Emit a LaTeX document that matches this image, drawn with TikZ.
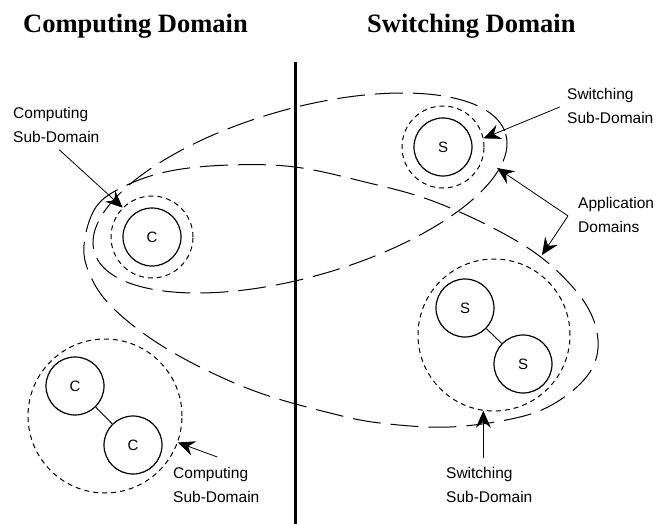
\documentclass[tikz,border=0pt]{standalone}
\usepackage{fontspec}
\setmainfont{Liberation Serif}
\setsansfont{Liberation Sans}
\usetikzlibrary{arrows.meta}
\tikzset{
  unit/.style={circle,draw,line width=1.2pt,minimum size=58pt,inner sep=0pt,font=\sffamily\fontsize{15}{18}\selectfont},
  subdom/.style={circle,draw,line width=1pt,dash pattern=on 5pt off 4pt,inner sep=0pt},
  appdom/.style={line width=1pt,dash pattern=on 28pt off 10pt},
  tag/.style={font=\sffamily\fontsize{15.5}{24}\selectfont,align=left,inner sep=0pt,anchor=north west},
  pointer/.style={line width=0.8pt,-{Stealth[length=17pt,width=15pt,inset=6pt]}},
  heading/.style={font=\bfseries\fontsize{26.5}{30}\selectfont,inner sep=0pt,anchor=base west}
}
\begin{document}
\begin{tikzpicture}[x=1pt,y=-1pt]
\useasboundingbox (0,0) rectangle (659,524);
\def\sub{82pt}

% the two domains
\node[heading] (cdomain) at (23,33) {Computing Domain};
\node[heading] (sdomain) at (367,33) {Switching Domain};
\draw[line width=3pt] (295,62) -- (295,524);

% application domains
\draw[appdom, rotate around={16:(300,193)}] (300,193) ellipse [x radius=214, y radius=84];
\draw[appdom] plot[smooth cycle, tension=0.6] coordinates {
  (84,245) (96,207) (125,186) (170,171) (230,165) (295,167) (365,182)
  (430,200) (497,230) (547,262) (585,303) (598,340) (590,372) (560,400)
  (520,417) (450,427) (380,423) (330,413) (260,393) (200,367) (150,338)
  (110,305) (90,275)};

% sub-domains
\node[subdom,minimum size=\sub] (cdom) at (152,237) {};
\node[unit] (c) at (152,237) {C};
\node[subdom,minimum size=\sub] (sdom) at (443,147) {};
\node[unit] (s) at (443,147) {S};
\node[subdom,minimum size=154pt] (cgrp) at (105,416) {};
\node[unit] (c1) at (75,386) {C};
\node[unit] (c2) at (133,445) {C};
\draw[line width=0.9pt] (c1) -- (c2);
\node[subdom,minimum size=152pt] (sgrp) at (494,335) {};
\node[unit] (s1) at (465,308) {S};
\node[unit] (s2) at (523,364) {S};
\draw[line width=0.9pt] (s1) -- (s2);

% labels
\node[tag] (ctag) at (13,107) {Computing\\Sub-Domain};
\node[tag] (stag) at (567,88) {Switching\\Sub-Domain};
\node[tag] (atag) at (578,197) {Application\\Domains};
\node[tag] (cgtag) at (173,467) {Computing\\Sub-Domain};
\node[tag] (sgtag) at (446,467) {Switching\\Sub-Domain};

\draw[pointer] ([shift={(3,7)}]ctag.south) -- (cdom.135);
\draw[pointer] ([shift={(-7,1)}]stag.west) -- (sdom.12);
\coordinate (afork) at ([shift={(-10,1)}]atag.west);
\coordinate (ptip) at (497,168);
\coordinate (qtip) at (542,255);
\draw[pointer] (afork) -- (ptip);
\draw[pointer] (afork) -- (qtip);
\draw[pointer] ([shift={(1,-10)}]cgtag.north) -- (cgrp.-20);
\draw[pointer] (sgrp.-98 |- sgtag.north) ++(0,-9) -- (sgrp.-98);
\end{tikzpicture}
\end{document}
